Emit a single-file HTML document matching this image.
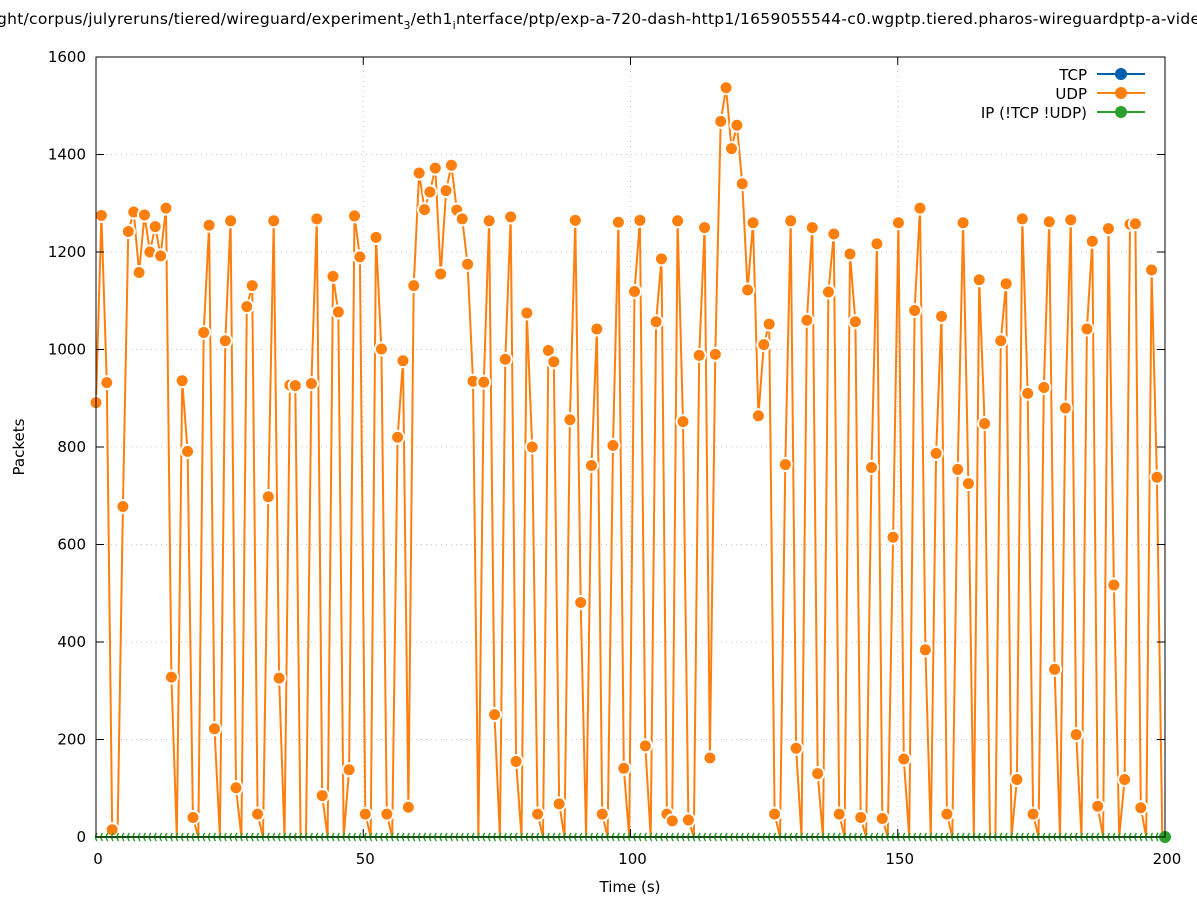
<!DOCTYPE html>
<html><head><meta charset="utf-8"><style>
html,body{margin:0;padding:0;background:#fff;width:1197px;height:900px;overflow:hidden}
text{font-family:"DejaVu Sans","Liberation Sans",sans-serif;fill:#000}
</style></head><body>
<svg id="s" width="1197" height="900" viewBox="0 0 1197 900" xmlns="http://www.w3.org/2000/svg">
<rect width="1197" height="900" fill="#fff"/>
<g id="grid" stroke="#c8c8c8" stroke-width="1" stroke-dasharray="1,4"></g>
<g id="series"></g>
<g id="axes"></g>
<text x="-3" y="24" font-size="15.5" textLength="1203" lengthAdjust="spacing">ght/corpus/julyreruns/tiered/wireguard/experiment<tspan font-size="11" dy="5">3</tspan><tspan dy="-5">/eth1</tspan><tspan font-size="11" dy="5">i</tspan><tspan dy="-5">nterface/ptp/exp-a-720-dash-http1/1659055544-c0.wgptp.tiered.pharos-wireguardptp-a-vide</tspan></text>
<text x="630" y="892" font-size="15" text-anchor="middle">Time (s)</text>
<text transform="translate(24,447) rotate(-90)" font-size="15" text-anchor="middle">Packets</text>
<g font-size="15" text-anchor="end">
<text x="1087" y="80">TCP</text>
<text x="1087" y="99">UDP</text>
<text x="1087" y="118">IP (!TCP  !UDP)</text>
</g>
<g stroke-width="2">
<line x1="1097" y1="74" x2="1145" y2="74" stroke="#0060ad"/><circle cx="1121" cy="74" r="6" fill="#0060ad"/>
<line x1="1097" y1="93" x2="1145" y2="93" stroke="#ff7f0e"/><circle cx="1121" cy="93" r="6" fill="#ff7f0e"/>
<line x1="1097" y1="112" x2="1145" y2="112" stroke="#2ca02c"/><circle cx="1121" cy="112" r="6" fill="#2ca02c"/>
</g>
</svg>
<script>
var v=[891,1275,932,15,0,678,1242,1282,1158,1276,1200,1252,1192,1290,328,0,936,791,40,0,1035,1255,222,0,1018,1264,101,0,1088,1131,47,0,698,1264,326,0,927,926,0,0,930,1268,85,0,1150,1077,0,138,1274,1190,47,0,1230,1001,47,0,820,977,61,1131,1362,1287,1323,1372,1155,1326,1378,1286,1268,1175,935,0,933,1264,251,0,980,1272,155,0,1075,800,47,0,998,975,68,0,856,1265,481,0,762,1042,47,0,803,1261,141,0,1119,1265,187,0,1057,1186,47,33,1264,852,35,0,988,1250,162,990,1468,1537,1412,1460,1340,1122,1260,864,1010,1052,47,0,764,1264,182,0,1060,1250,130,0,1118,1237,47,0,1196,1057,40,0,758,1217,38,0,615,1260,160,0,1080,1290,384,0,787,1068,47,0,754,1260,725,0,1143,848,0,0,1018,1135,0,118,1268,910,47,0,922,1262,344,0,880,1266,210,0,1042,1222,63,0,1248,517,0,118,1257,1258,60,0,1163,738,0];
var X0=96,X1=1165,Y0=837,Y1=57;
function px(t){return X0+(X1-X0)*t/200} function py(y){return Y0-(Y0-Y1)*y/1600}
var NS="http://www.w3.org/2000/svg";
function el(p,n,a){var e=document.createElementNS(NS,n);for(var k in a)e.setAttribute(k,a[k]);p.appendChild(e);return e}
var g=document.getElementById('grid'),ax=document.getElementById('axes'),se=document.getElementById('series');
for(var y=200;y<1600;y+=200)el(g,'line',{x1:X0,x2:X1,y1:py(y),y2:py(y)});
for(var t=50;t<200;t+=50)el(g,'line',{x1:px(t),x2:px(t),y1:Y0,y2:Y1});
var n=v.length,dt=(199.5)/(n-1);
var pts=v.map(function(y,i){return [px(i*dt),py(y)]});
el(se,'polyline',{points:pts.map(function(p){return p[0].toFixed(1)+','+p[1].toFixed(1)}).join(' '),fill:'none',stroke:'#ff7f0e','stroke-width':2});
pts.forEach(function(p,i){if(v[i]>0)el(se,'circle',{cx:p[0],cy:p[1],r:6.5,fill:'#ff7f0e',stroke:'#fff','stroke-width':2})});
el(se,'line',{x1:X0,x2:X1,y1:Y0,y2:Y0,stroke:'#2ca02c','stroke-width':2});
for(var i=0;i<n;i++){var x=px(i*dt);el(se,'path',{d:'M'+(x+1)+','+(Y0-4)+' q-3,4 0,8',fill:'none',stroke:'#2ca02c','stroke-width':1.5})}
el(se,'circle',{cx:X1,cy:Y0,r:6,fill:'#2ca02c'});
el(ax,'rect',{x:X0,y:Y1,width:X1-X0,height:Y0-Y1,fill:'none',stroke:'#000','stroke-width':1});
for(var y=0;y<=1600;y+=200){var yy=py(y);el(ax,'line',{x1:X0,x2:X0+8,y1:yy,y2:yy,stroke:'#000'});el(ax,'line',{x1:X1,x2:X1-8,y1:yy,y2:yy,stroke:'#000'});
var tx=el(ax,'text',{x:86,y:yy+5,'font-size':15,'text-anchor':'end'});tx.textContent=y;}
for(var t=0;t<=200;t+=50){var xx=px(t);el(ax,'line',{x1:xx,x2:xx,y1:Y0,y2:Y0-8,stroke:'#000'});el(ax,'line',{x1:xx,x2:xx,y1:Y1,y2:Y1+8,stroke:'#000'});
var tx=el(ax,'text',{x:xx+2,y:864,'font-size':15,'text-anchor':'middle'});tx.textContent=t;}
</script>
</body></html>
